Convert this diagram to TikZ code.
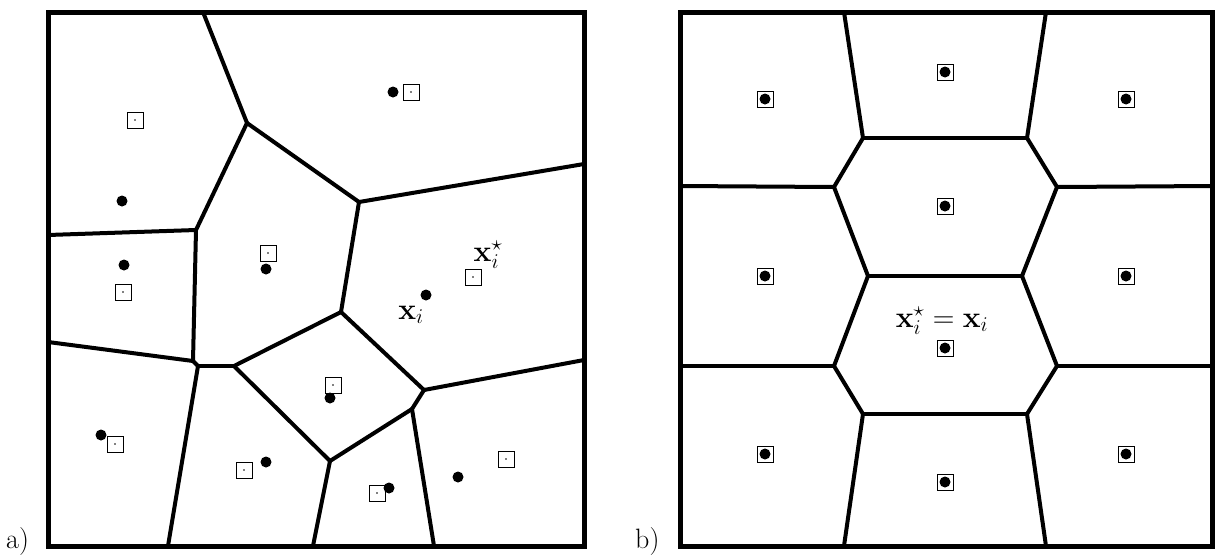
\RequirePackage{fix-cm}
\documentclass[tikz,border=0pt]{standalone}
\usepackage{amsmath}

\begin{document}
\begin{tikzpicture}[x=1pt,y=-1pt,
  edge/.style={black,line width=4pt,line cap=round,line join=round},
  frame/.style={black,line width=5pt,line join=miter},
  site/.style={circle,fill=black,inner sep=0pt,minimum size=11pt},
  gen/.style={rectangle,draw=black,fill=white,line width=0.8pt,inner sep=0pt,minimum size=16pt},
  gendot/.style={gen,path picture={\fill[black] (path picture bounding box.center) circle (0.8pt);}},
  mathlab/.style={font=\fontsize{30}{36}\selectfont,inner sep=0pt,anchor=base},
  panellab/.style={font=\fontsize{28}{34}\selectfont,inner sep=0pt,anchor=base west}]
\useasboundingbox (0,0) rectangle (1216,555);

% panel a) -- vertices of the cells
\coordinate (aT1) at (203,12);
\coordinate (aV1) at (247,123);
\coordinate (aV2) at (359,202);
\coordinate (aR1) at (584,164);
\coordinate (aV3) at (196,230);
\coordinate (aL1) at (48,235);
\coordinate (aV4) at (341,312);
\coordinate (aV5) at (193,361);
\coordinate (aL2) at (48,342);
\coordinate (aV6) at (198,366);
\coordinate (aV7) at (234,366);
\coordinate (aV8) at (424,390);
\coordinate (aR2) at (584,360);
\coordinate (aV9) at (412,409);
\coordinate (aV10) at (330,461);
\coordinate (aB1) at (168,546);
\coordinate (aB2) at (313,546);
\coordinate (aB3) at (434,546);

\draw[edge] (aT1) -- (aV1);
\draw[edge] (aV1) -- (aV2);
\draw[edge] (aV2) -- (aR1);
\draw[edge] (aV1) -- (aV3);
\draw[edge] (aL1) -- (aV3);
\draw[edge] (aV3) -- (aV5);
\draw[edge] (aV2) -- (aV4);
\draw[edge] (aL2) -- (aV5);
\draw[edge] (aV5) -- (aV6);
\draw[edge] (aV6) -- (aV7);
\draw[edge] (aV7) -- (aV4);
\draw[edge] (aV4) -- (aV8);
\draw[edge] (aV8) -- (aR2);
\draw[edge] (aV8) -- (aV9);
\draw[edge] (aV7) -- (aV10);
\draw[edge] (aV9) -- (aV10);
\draw[edge] (aV6) -- (aB1);
\draw[edge] (aV10) -- (aB2);
\draw[edge] (aV9) -- (aB3);
\draw[frame] (48,12) rectangle (584,546);

% generators (squares) and sites (dots)
\node[gendot] (g1) at (411,92) {};
\node[gendot] (g2) at (135,120) {};
\node[gendot] (g3) at (123,292) {};
\node[gendot] (g4) at (268,253) {};
\node[gendot] (g5) at (473,277) {};
\node[gendot] (g6) at (333,385) {};
\node[gendot] (g7) at (115,444) {};
\node[gendot] (g8) at (244,470) {};
\node[gendot] (g9) at (377,493) {};
\node[gendot] (g10) at (506,459) {};

\node[site] (s1) at (393,92) {};
\node[site] (s2) at (122,201) {};
\node[site] (s3) at (124,265) {};
\node[site] (s4) at (266,269) {};
\node[site] (s5) at (426,295) {};
\node[site] (s6) at (330,398) {};
\node[site] (s7) at (101,435) {};
\node[site] (s8) at (266,462) {};
\node[site] (s9) at (389,488) {};
\node[site] (s10) at (458,477) {};

\node[mathlab] (xa) at (411,319) {$\mathbf{x}_i$};
\node[mathlab] (xsa) at (488,261) {$\mathbf{x}_i^\star$};
\node[panellab] (pa) at (6,548) {a)};

% panel b) -- vertices of the cells
\coordinate (bT1) at (844,12);
\coordinate (bT2) at (1046,12);
\coordinate (bA) at (863,138);
\coordinate (bB) at (1027,138);
\coordinate (bC) at (834,187);
\coordinate (bD) at (1057,187);
\coordinate (bL1) at (680,186);
\coordinate (bR1) at (1212,186);
\coordinate (bE) at (868,276);
\coordinate (bF) at (1022,276);
\coordinate (bG) at (834,366);
\coordinate (bH) at (1057,366);
\coordinate (bL2) at (680,366);
\coordinate (bR2) at (1212,366);
\coordinate (bI) at (863,414);
\coordinate (bJ) at (1027,414);
\coordinate (bB1) at (844,546);
\coordinate (bB2) at (1046,546);

\draw[edge] (bT1) -- (bA);
\draw[edge] (bT2) -- (bB);
\draw[edge] (bA) -- (bB);
\draw[edge] (bA) -- (bC);
\draw[edge] (bB) -- (bD);
\draw[edge] (bL1) -- (bC);
\draw[edge] (bD) -- (bR1);
\draw[edge] (bC) -- (bE);
\draw[edge] (bD) -- (bF);
\draw[edge] (bE) -- (bF);
\draw[edge] (bE) -- (bG);
\draw[edge] (bF) -- (bH);
\draw[edge] (bL2) -- (bG);
\draw[edge] (bH) -- (bR2);
\draw[edge] (bG) -- (bI);
\draw[edge] (bH) -- (bJ);
\draw[edge] (bI) -- (bJ);
\draw[edge] (bI) -- (bB1);
\draw[edge] (bJ) -- (bB2);
\draw[frame] (680,12) rectangle (1212,546);

\node[gen] (q1) at (765,99) {};
\node[gen] (q2) at (945,72) {};
\node[gen] (q3) at (1126,99) {};
\node[gen] (q4) at (945,206) {};
\node[gen] (q5) at (765,276) {};
\node[gen] (q6) at (1126,276) {};
\node[gen] (q7) at (945,348) {};
\node[gen] (q8) at (765,454) {};
\node[gen] (q9) at (1126,454) {};
\node[gen] (q10) at (945,482) {};

\node[site] (d1) at (q1) {};
\node[site] (d2) at (q2) {};
\node[site] (d3) at (q3) {};
\node[site] (d4) at (q4) {};
\node[site] (d5) at (q5) {};
\node[site] (d6) at (q6) {};
\node[site] (d7) at (q7) {};
\node[site] (d8) at (q8) {};
\node[site] (d9) at (q9) {};
\node[site] (d10) at (q10) {};

\node[mathlab] (xb) at (942,327) {$\mathbf{x}_i^\star = \mathbf{x}_i$};
\node[panellab] (pb) at (635,548) {b)};
\end{tikzpicture}
\end{document}
